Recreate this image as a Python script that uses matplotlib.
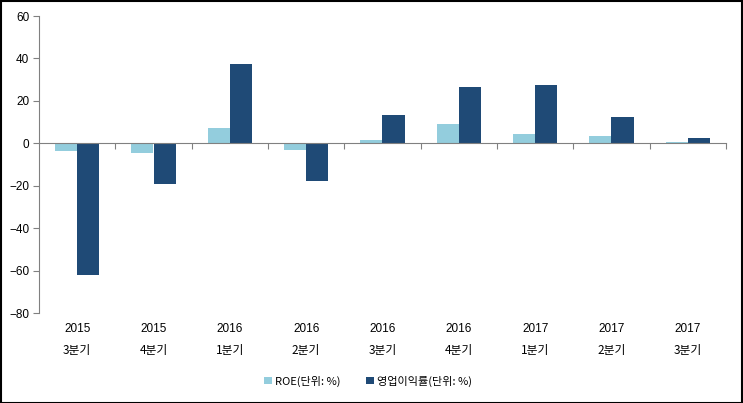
import matplotlib.pyplot as plt
import numpy as np

plt.rcParams['font.family'] = ['Liberation Sans', 'Noto Sans CJK KR', 'DejaVu Sans']

years = ["2015", "2015", "2016", "2016", "2016", "2016", "2017", "2017", "2017"]
quarters = ["3분기", "4분기", "1분기", "2분기", "3분기", "4분기", "1분기", "2분기", "3분기"]
roe = [-3.6, -4.5, 7.1, -3.0, 1.5, 9.0, 4.3, 3.4, 0.5]
op_margin = [-62.3, -19.3, 37.3, -17.8, 13.2, 26.4, 27.3, 12.3, 2.4]

fig = plt.figure(figsize=(7.43, 4.03), dpi=100)
ax = fig.add_axes([39 / 743, 1 - 313 / 403, (726 - 39) / 743, (313 - 16) / 403])

x = np.arange(len(years))
w = 0.29
ax.bar(x - w / 2, roe, w, color="#93CDDD", label="ROE(단위: %)")
ax.bar(x + w / 2, op_margin, w, color="#1F4A76", label="영업이익률(단위: %)")

ax.set_xlim(-0.5, len(years) - 0.5)
ax.set_ylim(-80, 60)
ax.set_yticks(range(-80, 61, 20))
ax.tick_params(axis="y", length=4, color="#808080", labelsize=8.5, pad=3)

for s in ["top", "right"]:
    ax.spines[s].set_visible(False)
ax.spines["left"].set_color("#808080")
ax.spines["bottom"].set_color("#808080")
ax.spines["bottom"].set_position(("data", 0))
ax.set_xticks(np.arange(len(years)) + 0.5)
ax.set_xticklabels([])
ax.tick_params(axis="x", length=4, color="#808080", direction="out")

for i in range(len(years)):
    ax.text(i, -87.5, years[i], ha="center", va="center", fontsize=8.5, family=["Liberation Sans", "Noto Sans CJK KR"])
    ax.text(i, -97.5, quarters[i], ha="center", va="center", fontsize=8.5, family=["Noto Sans CJK KR", "DejaVu Sans"])

leg = fig.legend(loc="center", bbox_to_anchor=(368 / 743, 1 - 381 / 403), ncol=2, frameon=False,
                 handlelength=0.7, handleheight=0.7, columnspacing=2.3, handletextpad=0.3,
                 prop={"family": ["Noto Sans CJK KR", "DejaVu Sans"], "size": 8})

fig.patches.append(plt.Rectangle((0.5 / 743, 0.5 / 403), 1 - 1.5 / 743, 1 - 1.5 / 403, transform=fig.transFigure,
                                 fill=False, edgecolor="black", linewidth=1.5))

fig.savefig("out.png", dpi=100)
